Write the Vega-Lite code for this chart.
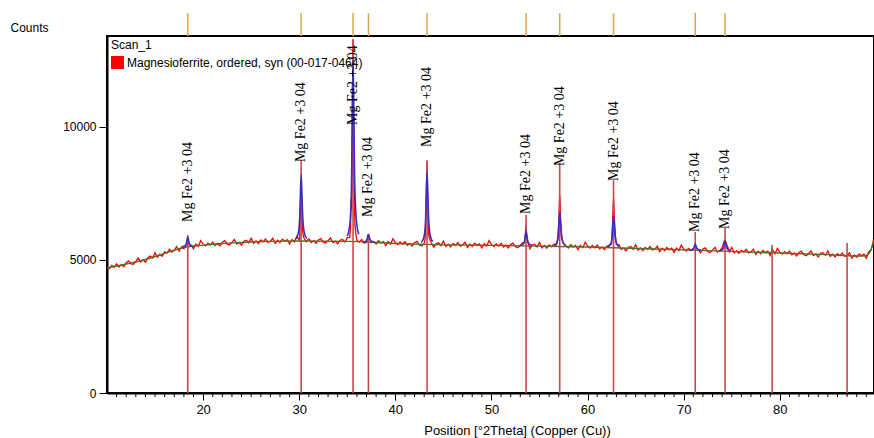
{
  "$schema": "https://vega.github.io/schema/vega-lite/v6.json",
  "width": 767,
  "height": 357,
  "autosize": "none",
  "padding": {"left": 107, "top": 36, "right": 0, "bottom": 45},
  "background": "white",
  "config": {
    "view": {"stroke": "black", "strokeWidth": 2},
    "font": "Liberation Sans",
    "axis": {"labelFont": "Liberation Sans", "titleFont": "Liberation Sans", "labelColor": "black", "titleColor": "black", "domainColor": "black", "tickColor": "black", "grid": false}
  },
  "datasets": {
    "raw": [
      {"x":10,"y":4735},{"x":10.25,"y":4678},{"x":10.5,"y":4795},{"x":10.75,"y":4732},{"x":11,"y":4855},{"x":11.25,"y":4735},{"x":11.5,"y":4825},{"x":11.75,"y":4745},{"x":12,"y":4900},{"x":12.25,"y":4970},{"x":12.5,"y":4855},{"x":12.75,"y":4840},{"x":13,"y":4950},{"x":13.25,"y":5077},{"x":13.5,"y":4925},{"x":13.75,"y":5003},{"x":14,"y":4920},{"x":14.25,"y":5088},{"x":14.5,"y":5145},{"x":14.75,"y":5072},{"x":15,"y":5270},{"x":15.25,"y":5100},{"x":15.5,"y":5220},{"x":15.75,"y":5145},{"x":16,"y":5305},{"x":16.25,"y":5265},{"x":16.5,"y":5400},{"x":16.75,"y":5300},{"x":17,"y":5370},{"x":17.25,"y":5505},{"x":17.5,"y":5330},{"x":17.75,"y":5480},{"x":18,"y":5420},{"x":18.25,"y":5560},{"x":18.35,"y":5700},{"x":18.4,"y":5900},{"x":18.45,"y":5780},{"x":18.5,"y":5600},{"x":18.75,"y":5565},{"x":19,"y":5425},{"x":19.25,"y":5598},{"x":19.5,"y":5515},{"x":19.75,"y":5727},
      {"x":20,"y":5595},{"x":20.25,"y":5528},{"x":20.5,"y":5635},{"x":20.75,"y":5562},{"x":21,"y":5675},{"x":21.25,"y":5543},{"x":21.5,"y":5620},{"x":21.75,"y":5527},{"x":22,"y":5670},{"x":22.25,"y":5725},{"x":22.5,"y":5595},{"x":22.75,"y":5565},{"x":23,"y":5660},{"x":23.25,"y":5770},{"x":23.5,"y":5600},{"x":23.75,"y":5660},{"x":24,"y":5560},{"x":24.25,"y":5705},{"x":24.5,"y":5740},{"x":24.75,"y":5645},{"x":25,"y":5820},{"x":25.25,"y":5624},{"x":25.5,"y":5718},{"x":25.75,"y":5616},{"x":26,"y":5750},{"x":26.25,"y":5683},{"x":26.5,"y":5790},{"x":26.75,"y":5662},{"x":27,"y":5705},{"x":27.25,"y":5816},{"x":27.5,"y":5618},{"x":27.75,"y":5744},{"x":28,"y":5660},{"x":28.25,"y":5785},{"x":28.5,"y":5705},{"x":28.75,"y":5760},{"x":29,"y":5605},{"x":29.25,"y":5770},{"x":29.5,"y":5680},{"x":29.75,"y":5885},
      {"x":30,"y":5745},{"x":30.05,"y":5900},{"x":30.1,"y":6500},{"x":30.15,"y":7300},{"x":30.2,"y":7900},{"x":30.25,"y":7000},{"x":30.3,"y":6300},{"x":30.4,"y":5950},{"x":30.5,"y":5820},{"x":30.75,"y":5690},{"x":31,"y":5795},{"x":31.25,"y":5655},{"x":31.5,"y":5725},{"x":31.75,"y":5625},{"x":32,"y":5756},{"x":32.25,"y":5806},{"x":32.5,"y":5671},{"x":32.75,"y":5636},{"x":33,"y":5726},{"x":33.25,"y":5831},{"x":33.5,"y":5656},{"x":33.75,"y":5711},{"x":34,"y":5602},{"x":34.25,"y":5742},{"x":34.5,"y":5772},{"x":34.75,"y":5672},{"x":35,"y":5840},{"x":35.25,"y":5850},{"x":35.35,"y":6300},{"x":35.4,"y":7300},{"x":35.45,"y":6900},{"x":35.5,"y":9000},{"x":35.55,"y":11500},{"x":35.6,"y":13300},{"x":35.65,"y":10500},{"x":35.7,"y":8400},{"x":35.75,"y":6900},{"x":35.8,"y":6300},{"x":35.9,"y":5950},{"x":36,"y":5740},{"x":36.25,"y":5666},{"x":36.5,"y":5767},{"x":36.75,"y":5634},{"x":37,"y":5670},{"x":37.1,"y":5800},{"x":37.2,"y":5980},{"x":37.3,"y":5830},{"x":37.5,"y":5650},{"x":37.75,"y":5694},{"x":38,"y":5605},{"x":38.25,"y":5726},{"x":38.5,"y":5642},{"x":38.75,"y":5694},{"x":39,"y":5535},{"x":39.25,"y":5695},{"x":39.5,"y":5600},{"x":39.75,"y":5800},
      {"x":40,"y":5655},{"x":40.25,"y":5578},{"x":40.5,"y":5675},{"x":40.75,"y":5592},{"x":41,"y":5695},{"x":41.25,"y":5553},{"x":41.5,"y":5620},{"x":41.75,"y":5517},{"x":42,"y":5650},{"x":42.25,"y":5698},{"x":42.5,"y":5560},{"x":42.75,"y":5522},{"x":43,"y":5610},{"x":43.1,"y":5800},{"x":43.15,"y":6200},{"x":43.2,"y":7200},{"x":43.25,"y":8000},{"x":43.3,"y":8700},{"x":43.35,"y":7500},{"x":43.4,"y":6500},{"x":43.45,"y":6000},{"x":43.55,"y":5800},{"x":43.75,"y":5640},{"x":44,"y":5480},{"x":44.25,"y":5618},{"x":44.5,"y":5645},{"x":44.75,"y":5542},{"x":45,"y":5710},{"x":45.25,"y":5509},{"x":45.5,"y":5598},{"x":45.75,"y":5492},{"x":46,"y":5621},{"x":46.25,"y":5550},{"x":46.5,"y":5654},{"x":46.75,"y":5523},{"x":47,"y":5562},{"x":47.25,"y":5671},{"x":47.5,"y":5470},{"x":47.75,"y":5594},{"x":48,"y":5508},{"x":48.25,"y":5632},{"x":48.5,"y":5551},{"x":48.75,"y":5605},{"x":49,"y":5449},{"x":49.25,"y":5613},{"x":49.5,"y":5522},{"x":49.75,"y":5726},
      {"x":50,"y":5585},{"x":50.25,"y":5508},{"x":50.5,"y":5607},{"x":50.75,"y":5525},{"x":51,"y":5629},{"x":51.25,"y":5487},{"x":51.5,"y":5556},{"x":51.75,"y":5454},{"x":52,"y":5588},{"x":52.25,"y":5636},{"x":52.5,"y":5500},{"x":52.75,"y":5463},{"x":53,"y":5552},{"x":53.25,"y":5655},{"x":53.45,"y":5650},{"x":53.55,"y":6000},{"x":53.6,"y":6300},{"x":53.65,"y":5950},{"x":53.75,"y":5700},{"x":54,"y":5426},{"x":54.25,"y":5564},{"x":54.5,"y":5593},{"x":54.75,"y":5491},{"x":55,"y":5660},{"x":55.25,"y":5458},{"x":55.5,"y":5547},{"x":55.75,"y":5440},{"x":56,"y":5569},{"x":56.25,"y":5497},{"x":56.5,"y":5601},{"x":56.75,"y":5560},{"x":56.9,"y":5750},{"x":57,"y":6400},{"x":57.05,"y":7000},{"x":57.1,"y":7450},{"x":57.15,"y":7100},{"x":57.2,"y":6500},{"x":57.3,"y":5950},{"x":57.4,"y":5750},{"x":57.5,"y":5600},{"x":57.75,"y":5538},{"x":58,"y":5452},{"x":58.25,"y":5575},{"x":58.5,"y":5494},{"x":58.75,"y":5547},{"x":59,"y":5391},{"x":59.25,"y":5554},{"x":59.5,"y":5463},{"x":59.75,"y":5666},
      {"x":60,"y":5525},{"x":60.25,"y":5447},{"x":60.5,"y":5544},{"x":60.75,"y":5461},{"x":61,"y":5563},{"x":61.25,"y":5420},{"x":61.5,"y":5487},{"x":61.75,"y":5384},{"x":62,"y":5516},{"x":62.25,"y":5563},{"x":62.5,"y":5600},{"x":62.6,"y":6300},{"x":62.65,"y":6900},{"x":62.7,"y":7330},{"x":62.75,"y":7000},{"x":62.8,"y":6500},{"x":62.9,"y":5900},{"x":63,"y":5600},{"x":63.25,"y":5576},{"x":63.5,"y":5398},{"x":63.75,"y":5450},{"x":64,"y":5342},{"x":64.25,"y":5479},{"x":64.5,"y":5506},{"x":64.75,"y":5403},{"x":65,"y":5570},{"x":65.25,"y":5368},{"x":65.5,"y":5455},{"x":65.75,"y":5348},{"x":66,"y":5475},{"x":66.25,"y":5403},{"x":66.5,"y":5505},{"x":66.75,"y":5373},{"x":67,"y":5410},{"x":67.25,"y":5518},{"x":67.5,"y":5315},{"x":67.75,"y":5438},{"x":68,"y":5350},{"x":68.25,"y":5473},{"x":68.5,"y":5390},{"x":68.75,"y":5443},{"x":69,"y":5285},{"x":69.25,"y":5448},{"x":69.5,"y":5355},{"x":69.75,"y":5558},
      {"x":70,"y":5415},{"x":70.25,"y":5338},{"x":70.5,"y":5435},{"x":70.75,"y":5353},{"x":71,"y":5430},{"x":71.05,"y":5450},{"x":71.15,"y":5550},{"x":71.2,"y":5620},{"x":71.3,"y":5500},{"x":71.4,"y":5420},{"x":71.5,"y":5380},{"x":71.75,"y":5278},{"x":72,"y":5410},{"x":72.25,"y":5458},{"x":72.5,"y":5320},{"x":72.75,"y":5283},{"x":73,"y":5370},{"x":73.25,"y":5473},{"x":73.5,"y":5295},{"x":73.75,"y":5348},{"x":74,"y":5450},{"x":74.1,"y":5580},{"x":74.2,"y":5700},{"x":74.3,"y":5760},{"x":74.4,"y":5680},{"x":74.5,"y":5550},{"x":74.65,"y":5420},{"x":74.75,"y":5303},{"x":75,"y":5470},{"x":75.25,"y":5267},{"x":75.5,"y":5353},{"x":75.75,"y":5245},{"x":76,"y":5371},{"x":76.25,"y":5298},{"x":76.5,"y":5399},{"x":76.75,"y":5266},{"x":77,"y":5302},{"x":77.25,"y":5409},{"x":77.5,"y":5205},{"x":77.75,"y":5327},{"x":78,"y":5238},{"x":78.25,"y":5360},{"x":78.5,"y":5276},{"x":78.75,"y":5328},{"x":79,"y":5169},{"x":79.2,"y":5420},{"x":79.5,"y":5237},{"x":79.75,"y":5439},
      {"x":80,"y":5295},{"x":80.25,"y":5217},{"x":80.5,"y":5314},{"x":80.75,"y":5231},{"x":81,"y":5333},{"x":81.25,"y":5190},{"x":81.5,"y":5257},{"x":81.75,"y":5154},{"x":82,"y":5286},{"x":82.25,"y":5333},{"x":82.5,"y":5195},{"x":82.75,"y":5157},{"x":83,"y":5244},{"x":83.25,"y":5346},{"x":83.5,"y":5168},{"x":83.75,"y":5220},{"x":84,"y":5112},{"x":84.25,"y":5249},{"x":84.5,"y":5276},{"x":84.75,"y":5173},{"x":85,"y":5340},{"x":85.25,"y":5136},{"x":85.5,"y":5222},{"x":85.75,"y":5112},{"x":86,"y":5238},{"x":86.25,"y":5164},{"x":86.5,"y":5265},{"x":86.75,"y":5131},{"x":87,"y":5167},{"x":87.25,"y":5273},{"x":87.5,"y":5068},{"x":87.75,"y":5189},{"x":88,"y":5100},{"x":88.25,"y":5230},{"x":88.5,"y":5155},{"x":88.75,"y":5215},{"x":89,"y":5065},{"x":89.25,"y":5310},{"x":89.5,"y":5370},{"x":89.75,"y":5750},{"x":90,"y":5800}
    ],
    "fit": [
      {"p":1,"x":17.8,"y":5501},{"p":1,"x":18.0,"y":5515},{"p":1,"x":18.15,"y":5548},{"p":1,"x":18.25,"y":5616},{"p":1,"x":18.32,"y":5742},{"p":1,"x":18.4,"y":5850},{"p":1,"x":18.48,"y":5749},{"p":1,"x":18.55,"y":5634},{"p":1,"x":18.65,"y":5562},{"p":1,"x":18.8,"y":5522},{"p":1,"x":19.0,"y":5504},
      {"p":2,"x":29.6,"y":5785},{"p":2,"x":29.8,"y":5884},{"p":2,"x":29.95,"y":6108},{"p":2,"x":30.05,"y":6582},{"p":2,"x":30.12,"y":7453},{"p":2,"x":30.2,"y":8200},{"p":2,"x":30.28,"y":7503},{"p":2,"x":30.35,"y":6706},{"p":2,"x":30.45,"y":6208},{"p":2,"x":30.6,"y":5934},{"p":2,"x":30.8,"y":5810},
      {"p":3,"x":35.0,"y":5899},{"p":3,"x":35.2,"y":6171},{"p":3,"x":35.35,"y":6783},{"p":3,"x":35.45,"y":8075},{"p":3,"x":35.52,"y":10455},{"p":3,"x":35.6,"y":12495},{"p":3,"x":35.68,"y":10591},{"p":3,"x":35.75,"y":8415},{"p":3,"x":35.85,"y":7055},{"p":3,"x":36.0,"y":6307},{"p":3,"x":36.2,"y":5967},
      {"p":4,"x":36.6,"y":5674},{"p":4,"x":36.8,"y":5685},{"p":4,"x":36.95,"y":5711},{"p":4,"x":37.05,"y":5765},{"p":4,"x":37.12,"y":5865},{"p":4,"x":37.2,"y":5950},{"p":4,"x":37.28,"y":5870},{"p":4,"x":37.35,"y":5779},{"p":4,"x":37.45,"y":5722},{"p":4,"x":37.6,"y":5691},{"p":4,"x":37.8,"y":5676},
      {"p":5,"x":42.7,"y":5666},{"p":5,"x":42.9,"y":5775},{"p":5,"x":43.05,"y":6019},{"p":5,"x":43.15,"y":6535},{"p":5,"x":43.22,"y":7486},{"p":5,"x":43.3,"y":8300},{"p":5,"x":43.38,"y":7540},{"p":5,"x":43.45,"y":6671},{"p":5,"x":43.55,"y":6128},{"p":5,"x":43.7,"y":5829},{"p":5,"x":43.9,"y":5694},
      {"p":6,"x":53.0,"y":5547},{"p":6,"x":53.2,"y":5570},{"p":6,"x":53.35,"y":5621},{"p":6,"x":53.45,"y":5730},{"p":6,"x":53.52,"y":5929},{"p":6,"x":53.6,"y":6100},{"p":6,"x":53.68,"y":5940},{"p":6,"x":53.75,"y":5758},{"p":6,"x":53.85,"y":5644},{"p":6,"x":54.0,"y":5581},{"p":6,"x":54.2,"y":5553},
      {"p":7,"x":56.5,"y":5546},{"p":7,"x":56.7,"y":5598},{"p":7,"x":56.85,"y":5714},{"p":7,"x":56.95,"y":5960},{"p":7,"x":57.02,"y":6412},{"p":7,"x":57.1,"y":6800},{"p":7,"x":57.18,"y":6438},{"p":7,"x":57.25,"y":6024},{"p":7,"x":57.35,"y":5766},{"p":7,"x":57.5,"y":5623},{"p":7,"x":57.7,"y":5559},
      {"p":8,"x":62.1,"y":5494},{"p":8,"x":62.3,"y":5541},{"p":8,"x":62.45,"y":5649},{"p":8,"x":62.55,"y":5875},{"p":8,"x":62.62,"y":6292},{"p":8,"x":62.7,"y":6650},{"p":8,"x":62.78,"y":6316},{"p":8,"x":62.85,"y":5935},{"p":8,"x":62.95,"y":5696},{"p":8,"x":63.1,"y":5565},{"p":8,"x":63.3,"y":5506},
      {"p":9,"x":70.6,"y":5374},{"p":9,"x":70.8,"y":5383},{"p":9,"x":70.95,"y":5402},{"p":9,"x":71.05,"y":5442},{"p":9,"x":71.12,"y":5516},{"p":9,"x":71.2,"y":5580},{"p":9,"x":71.28,"y":5521},{"p":9,"x":71.35,"y":5453},{"p":9,"x":71.45,"y":5410},{"p":9,"x":71.6,"y":5387},{"p":9,"x":71.8,"y":5376},
      {"p":10,"x":73.7,"y":5348},{"p":10,"x":73.9,"y":5364},{"p":10,"x":74.05,"y":5398},{"p":10,"x":74.15,"y":5471},{"p":10,"x":74.22,"y":5605},{"p":10,"x":74.3,"y":5720},{"p":10,"x":74.38,"y":5613},{"p":10,"x":74.45,"y":5490},{"p":10,"x":74.55,"y":5414},{"p":10,"x":74.7,"y":5371},{"p":10,"x":74.9,"y":5352}
    ],
    "bg": [
      {"x":10,"y":4700},{"x":12,"y":4850},{"x":14,"y":5020},{"x":16,"y":5250},{"x":18,"y":5470},{"x":20,"y":5560},{"x":22,"y":5620},{"x":24,"y":5660},{"x":26,"y":5695},{"x":28,"y":5710},{"x":30,"y":5712},{"x":35,"y":5700},{"x":40,"y":5620},{"x":45,"y":5570},{"x":50,"y":5550},{"x":60,"y":5490},{"x":70,"y":5380},{"x":80,"y":5260},{"x":85,"y":5200},{"x":88,"y":5150},{"x":89,"y":5170},{"x":89.5,"y":5400},{"x":89.75,"y":5650},{"x":90,"y":5780}
    ],
    "pk": [
      {"x":18.4,"top":5940,"lb":6430},{"x":30.2,"top":8750,"lb":8680},{"x":35.6,"top":13300,"lb":10075},{"x":37.2,"top":5950,"lb":6620},{"x":43.3,"top":8750,"lb":9250},{"x":53.6,"top":6700,"lb":6730},{"x":57.1,"top":8650,"lb":8530},{"x":62.7,"top":8000,"lb":7970},{"x":71.2,"top":6050,"lb":6050},{"x":74.3,"top":6200,"lb":6165},{"x":79.2,"top":5560},{"x":87.0,"top":5640}
    ],
    "mt": [
      {"x":11},{"x":12},{"x":13},{"x":14},{"x":15},{"x":16},{"x":17},{"x":18},{"x":19},{"x":21},{"x":22},{"x":23},{"x":24},{"x":25},{"x":26},{"x":27},{"x":28},{"x":29},{"x":31},{"x":32},{"x":33},{"x":34},{"x":35},{"x":36},{"x":37},{"x":38},{"x":39},{"x":41},{"x":42},{"x":43},{"x":44},{"x":45},{"x":46},{"x":47},{"x":48},{"x":49},{"x":51},{"x":52},{"x":53},{"x":54},{"x":55},{"x":56},{"x":57},{"x":58},{"x":59},{"x":61},{"x":62},{"x":63},{"x":64},{"x":65},{"x":66},{"x":67},{"x":68},{"x":69},{"x":71},{"x":72},{"x":73},{"x":74},{"x":75},{"x":76},{"x":77},{"x":78},{"x":79},{"x":81},{"x":82},{"x":83},{"x":84},{"x":85},{"x":86},{"x":87},{"x":88},{"x":89}
    ]
  },
  "layer": [
    {
      "data": {"name": "raw"},
      "mark": {"type": "line", "strokeWidth": 1.3, "clip": true},
      "encoding": {
        "x": {"field": "x", "type": "quantitative",
          "scale": {"domain": [10, 89.8], "nice": false, "zero": false},
          "axis": {
            "title": "Position [°2Theta] (Copper (Cu))",
            "titleFontSize": 13, "titleFontWeight": "normal",
            "titleX": 410, "titleY": 41, "titleBaseline": "alphabetic", "titleAlign": "center",
            "values": [20, 30, 40, 50, 60, 70, 80],
            "format": "d", "labelOverlap": false,
            "labelFontSize": 13, "labelPadding": 3, "labelFlush": false,
            "domainWidth": 2, "tickSize": 7, "tickWidth": 1
          }
        },
        "y": {"field": "y", "type": "quantitative",
          "scale": {"domain": [0, 13420], "nice": false, "zero": false},
          "axis": {
            "title": "Counts", "titleAngle": 0, "titleX": -97, "titleY": -9,
            "titleAlign": "left", "titleBaseline": "middle", "titleFontSize": 12, "titleFontWeight": "normal",
            "values": [0, 5000, 10000], "format": "d", "labelFontSize": 12, "labelPadding": 3,
            "domainWidth": 2, "tickSize": 8, "tickWidth": 1
          }
        },
        "color": {"datum": "Magnesioferrite, ordered, syn (00-017-0464)", "type": "nominal",
          "scale": {"range": ["#ff0000"]},
          "legend": {
            "title": "Scan_1", "orient": "top-left", "offset": 4, "padding": 0,
            "titleFontSize": 12, "titleFontWeight": "normal", "titleFont": "Liberation Sans", "titleColor": "black", "titlePadding": 4,
            "labelFontSize": 12, "labelFont": "Liberation Sans", "labelColor": "black", "labelLimit": 400, "labelOffset": 3,
            "symbolType": "square", "symbolSize": 169, "symbolStrokeWidth": 0,
            "encode": {"symbols": {"update": {"fill": {"value": "#ff0000"}, "stroke": {"value": "#ff0000"}, "strokeWidth": {"value": 0}}}}
          }
        }
      }
    },
    {
      "data": {"name": "bg"},
      "mark": {"type": "line", "color": "#5b6b22", "strokeWidth": 1.4, "interpolate": "monotone", "clip": true},
      "encoding": {"x": {"field": "x", "type": "quantitative"}, "y": {"field": "y", "type": "quantitative"}}
    },
    {
      "data": {"name": "pk"},
      "mark": {"type": "rule", "color": "#c24a4e", "strokeWidth": 1.6},
      "encoding": {"x": {"field": "x", "type": "quantitative"}, "y": {"field": "top", "type": "quantitative"}, "y2": {"datum": 0}}
    },
    {
      "data": {"name": "fit"},
      "mark": {"type": "line", "color": "#3a2fc0", "strokeWidth": 1.6, "interpolate": "monotone"},
      "encoding": {"x": {"field": "x", "type": "quantitative"}, "y": {"field": "y", "type": "quantitative"}, "detail": {"field": "p", "type": "nominal"}}
    },
    {
      "data": {"name": "pk"},
      "transform": [{"filter": "isValid(datum.lb)"}],
      "mark": {"type": "text", "angle": 270, "align": "left", "baseline": "middle", "font": "Liberation Serif", "fontSize": 14, "color": "black", "text": "Mg Fe2 +3 04"},
      "encoding": {"x": {"field": "x", "type": "quantitative"}, "y": {"field": "lb", "type": "quantitative"}}
    },
    {
      "data": {"name": "pk"},
      "transform": [{"filter": "isValid(datum.lb)"}, {"calculate": "13420", "as": "t0"}, {"calculate": "14280", "as": "t1"}],
      "mark": {"type": "rule", "color": "#e0a24e", "strokeWidth": 1.5, "clip": false},
      "encoding": {"x": {"field": "x", "type": "quantitative"}, "y": {"field": "t0", "type": "quantitative"}, "y2": {"field": "t1"}}
    },
    {
      "data": {"name": "mt"},
      "transform": [{"calculate": "0", "as": "m0"}, {"calculate": "-150", "as": "m1"}],
      "mark": {"type": "rule", "color": "black", "strokeWidth": 1, "clip": false},
      "encoding": {"x": {"field": "x", "type": "quantitative"}, "y": {"field": "m0", "type": "quantitative"}, "y2": {"field": "m1"}}
    }
  ]
}
